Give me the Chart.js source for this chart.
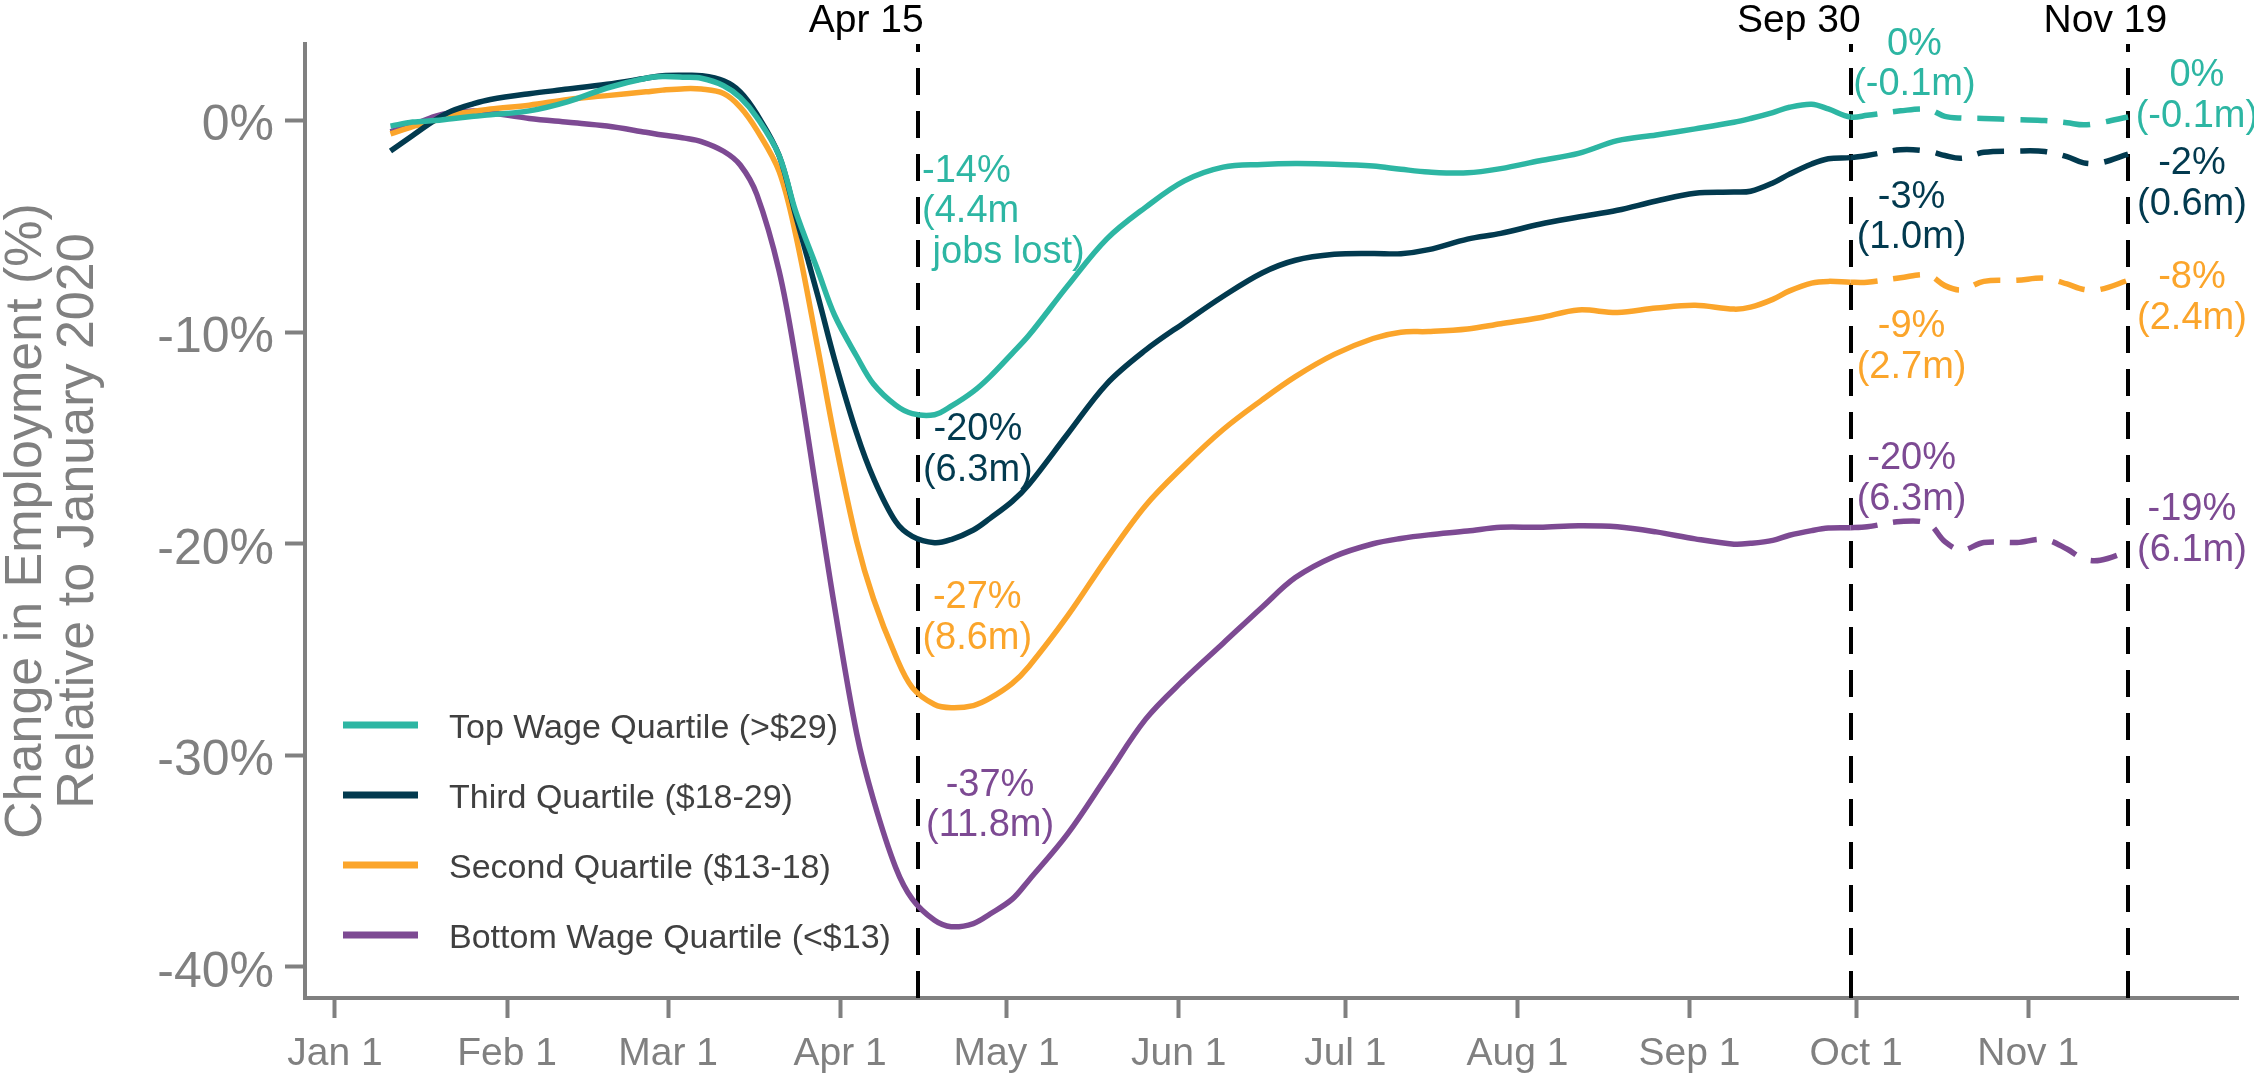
<!DOCTYPE html>
<html>
<head>
<meta charset="utf-8">
<script src="https://cdn.jsdelivr.net/npm/chart.js"></script>
<style>
  html, body { margin: 0; padding: 0; background: #fff; }
  #wrap { width: 2254px; height: 1074px; }
</style>
</head>
<body>
<div id="wrap"><canvas id="chart" width="2254" height="1074"></canvas></div>
<script>
// day of year 2020 (Jan 1 = 0)
const days = [10, 14, 18, 21, 25, 28, 35, 42, 49, 56,
  59, 63, 66, 70, 73, 76, 80, 83, 87, 90,
  94, 97, 101, 104, 108, 111, 115, 118, 122, 125,
  132, 139, 146, 153, 160, 167, 173, 180, 187, 192,
  197, 204, 210, 217, 224, 231, 238, 245, 252, 255,
  259, 262, 266, 269, 273, 276, 282, 287, 290, 293,
  297, 303, 308, 312, 315, 318, 323];

const topWage = [-0.26, -0.07, 0.0, 0.09, 0.2, 0.27, 0.46, 0.9, 1.54, 2.0,
  2.08, 2.05, 2.0, 1.65, 1.09, 0.15, -1.65, -4.3, -7.1, -9.2,
  -11.15, -12.45, -13.45, -13.85, -13.9, -13.5, -12.8, -12.1, -11.0, -10.15,
  -7.8, -5.6, -4.1, -2.85, -2.2, -2.07, -2.03, -2.06, -2.15, -2.3,
  -2.43, -2.47, -2.27, -1.9, -1.55, -0.95, -0.68, -0.39, -0.08, 0.1,
  0.38, 0.63, 0.77, 0.55, 0.17, 0.25, 0.46, 0.53, 0.2, 0.12,
  0.1, 0.04, 0.0, -0.1, -0.2, -0.1, 0.17];

const thirdQ = [-1.44, -0.7, 0.02, 0.45, 0.8, 1.0, 1.27, 1.49, 1.72, 2.0,
  2.12, 2.14, 2.12, 1.88, 1.36, 0.3, -1.65, -4.5, -8.3, -11.3,
  -14.8, -16.9, -18.95, -19.65, -19.95, -19.8, -19.35, -18.8, -18.0, -17.2,
  -14.8, -12.45, -10.85, -9.55, -8.3, -7.2, -6.6, -6.32, -6.28, -6.29,
  -6.1, -5.6, -5.33, -4.9, -4.56, -4.24, -3.8, -3.43, -3.38, -3.34,
  -2.95, -2.53, -2.05, -1.8, -1.75, -1.65, -1.38, -1.45, -1.65, -1.78,
  -1.5, -1.44, -1.46, -1.7, -2.0, -2.0, -1.58];

const secondQ = [-0.63, -0.28, 0.0, 0.27, 0.43, 0.55, 0.73, 1.0, 1.18, 1.36,
  1.44, 1.51, 1.49, 1.28, 0.64, -0.45, -2.4, -5.4, -10.8, -15.0,
  -19.9, -22.6, -25.3, -26.8, -27.6, -27.75, -27.65, -27.3, -26.6, -25.8,
  -23.4, -20.7, -18.2, -16.3, -14.6, -13.2, -12.1, -11.05, -10.3, -10.0,
  -9.97, -9.85, -9.6, -9.32, -8.95, -9.07, -8.86, -8.73, -8.91, -8.82,
  -8.45, -8.05, -7.68, -7.6, -7.64, -7.64, -7.43, -7.3, -7.8, -8.0,
  -7.6, -7.55, -7.45, -7.72, -7.98, -7.98, -7.55];

const bottomWage = [-0.53, -0.2, 0.2, 0.37, 0.45, 0.37, 0.1, -0.08, -0.26, -0.55,
  -0.68, -0.83, -0.99, -1.45, -2.1, -3.5, -7.1, -11.3, -18.0, -23.0,
  -29.0, -32.1, -35.3, -36.8, -37.8, -38.1, -37.95, -37.5, -36.8, -35.9,
  -33.7, -31.0, -28.3, -26.4, -24.7, -23.0, -21.6, -20.6, -20.0, -19.75,
  -19.58, -19.4, -19.22, -19.22, -19.15, -19.2, -19.44, -19.77, -20.02, -19.98,
  -19.84, -19.6, -19.38, -19.26, -19.24, -19.2, -18.95, -19.05, -19.9, -20.3,
  -19.94, -19.94, -19.8, -20.25, -20.72, -20.78, -20.36];

const seriesLabels = ['Top Wage Quartile (>$29)', 'Third Quartile ($18-29)',
  'Second Quartile ($13-18)', 'Bottom Wage Quartile (<$13)'];
const seriesColors = ['#2db6a3', '#023a4f', '#fba52b', '#7d4a93'];

const tickDays = [0, 31, 60, 91, 121, 152, 182, 213, 244, 274, 305];
const tickLabels = ['Jan 1', 'Feb 1', 'Mar 1', 'Apr 1', 'May 1', 'Jun 1',
  'Jul 1', 'Aug 1', 'Sep 1', 'Oct 1', 'Nov 1'];
const yTicks = [-40, -30, -20, -10, 0];

const markerDays = [105, 273, 323];
const markerLabels = ['Apr 15', 'Sep 30', 'Nov 19'];
const markerLabelDays = [95.7, 263.7, 318.9];

const projectedFrom = 273; // dashed after Sep 30

// call-out text, anchored in data units (first line baseline)
const notes = [
  { s: 0, day: 105.75, value: -2.9, align: 'left', lines: ['-14%', '(4.4m', ' jobs lost)'] },
  { s: 1, day: 115.8, value: -15.1, align: 'center', lines: ['-20%', '(6.3m)'] },
  { s: 2, day: 115.7, value: -23.05, align: 'center', lines: ['-27%', '(8.6m)'] },
  { s: 3, day: 118.0, value: -31.9, align: 'center', lines: ['-37%', '(11.8m)'] },
  { s: 0, day: 284.5, value: 3.12, align: 'center', lines: ['0%', '(-0.1m)'] },
  { s: 1, day: 284.0, value: -4.12, align: 'center', lines: ['-3%', '(1.0m)'] },
  { s: 2, day: 284.0, value: -10.23, align: 'center', lines: ['-9%', '(2.7m)'] },
  { s: 3, day: 284.0, value: -16.47, align: 'center', lines: ['-20%', '(6.3m)'] },
  { s: 0, day: 335.4, value: 1.63, align: 'center', lines: ['0%', '(-0.1m)'] },
  { s: 1, day: 334.5, value: -2.53, align: 'center', lines: ['-2%', '(0.6m)'] },
  { s: 2, day: 334.5, value: -7.92, align: 'center', lines: ['-8%', '(2.4m)'] },
  { s: 3, day: 334.5, value: -18.88, align: 'center', lines: ['-19%', '(6.1m)'] }
];

const FONT = "'Liberation Sans', Arial, sans-serif";
const GRAY = '#808080';

function toPoints(vals) {
  return days.map((d, i) => ({ x: d, y: vals[i] }));
}

const allSeries = [topWage, thirdQ, secondQ, bottomWage];

const overlay = {
  id: 'overlay',
  beforeDatasetsDraw(chart) {
    const { ctx, chartArea: a, scales: { x } } = chart;
    ctx.save();
    ctx.strokeStyle = '#000';
    ctx.lineWidth = 4;
    ctx.setLineDash([27, 16]);
    markerDays.forEach(d => {
      const px = Math.round(x.getPixelForValue(d));
      ctx.beginPath();
      ctx.moveTo(px, a.bottom);
      ctx.lineTo(px, a.top);
      ctx.stroke();
    });
    ctx.restore();
  },
  afterDatasetsDraw(chart) {
    const { ctx, chartArea: a, scales: { x, y } } = chart;
    ctx.save();

    // date labels above the lines
    ctx.fillStyle = '#000';
    ctx.font = '39px ' + FONT;
    ctx.textAlign = 'center';
    ctx.textBaseline = 'alphabetic';
    markerLabels.forEach((t, i) => {
      ctx.fillText(t, x.getPixelForValue(markerLabelDays[i]), a.top - 12);
    });

    // call-outs
    ctx.font = '38px ' + FONT;
    notes.forEach(n => {
      ctx.fillStyle = seriesColors[n.s];
      ctx.textAlign = n.align;
      const px = x.getPixelForValue(n.day);
      const py = y.getPixelForValue(n.value);
      n.lines.forEach((t, i) => ctx.fillText(t, px, py + i * 40.5));
    });

    // legend
    ctx.font = '34px ' + FONT;
    ctx.textAlign = 'left';
    chart.data.datasets.forEach((ds, i) => {
      const ly = a.bottom - 273 + i * 70;
      ctx.fillStyle = ds.borderColor;
      ctx.fillRect(a.left + 38, ly - 3.5, 75, 7);
      ctx.fillStyle = '#404040';
      ctx.fillText(ds.label, a.left + 144, ly + 13);
    });
    ctx.restore();
  }
};

new Chart(document.getElementById('chart'), {
  type: 'line',
  data: {
    datasets: allSeries.map((vals, i) => ({
      label: seriesLabels[i],
      data: toPoints(vals),
      borderColor: seriesColors[i],
      backgroundColor: seriesColors[i],
      borderWidth: 5.5,
      pointRadius: 0,
      fill: false,
      tension: 0.35,
      segment: {
        borderDash: ctx => (ctx.p0.parsed.x >= projectedFrom ? [27, 16] : undefined)
      }
    }))
  },
  options: {
    responsive: false,
    devicePixelRatio: 1,
    animation: false,
    events: [],
    layout: { padding: { left: 0, top: 44, right: 16, bottom: 0 } },
    plugins: { legend: { display: false }, tooltip: { enabled: false } },
    scales: {
      x: {
        type: 'linear',
        min: -5.4,
        max: 342.8,
        afterBuildTicks: s => { s.ticks = tickDays.map(v => ({ value: v })); },
        afterFit: s => { s.height = 76; },
        grid: { drawOnChartArea: false, drawTicks: true, tickLength: 20, tickWidth: 4, tickColor: GRAY },
        border: { display: true, color: GRAY, width: 4 },
        ticks: {
          padding: 13,
          color: GRAY,
          font: { family: FONT, size: 39 },
          maxRotation: 0,
          autoSkip: false,
          callback: (v, i) => tickLabels[i]
        }
      },
      y: {
        min: -41.47,
        max: 3.62,
        afterBuildTicks: s => { s.ticks = yTicks.map(v => ({ value: v })); },
        afterFit: s => { s.width = 305; },
        grid: { drawOnChartArea: false, drawTicks: true, tickLength: 20, tickWidth: 4, tickColor: GRAY },
        border: { display: true, color: GRAY, width: 4 },
        ticks: {
          padding: 11,
          labelOffset: 6,
          color: GRAY,
          font: { family: FONT, size: 50 },
          callback: v => v + '%'
        },
        title: {
          display: true,
          text: ['Change in Employment (%)', 'Relative to January 2020'],
          color: GRAY,
          font: { family: FONT, size: 52, lineHeight: 1.0 },
          padding: { top: 1, bottom: 0 }
        }
      }
    }
  },
  plugins: [overlay]
});
</script>
</body>
</html>
